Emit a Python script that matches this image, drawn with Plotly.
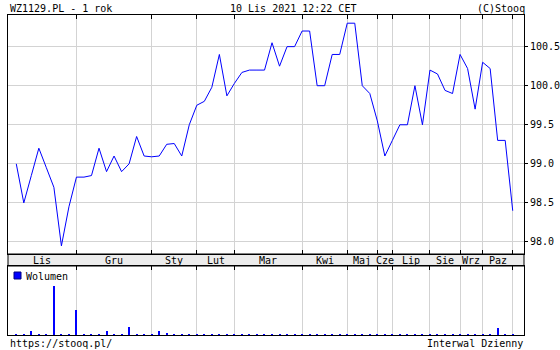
import plotly.graph_objects as go

# ---- data ----
prices = [99.0, 98.5, 98.85, 99.2, 98.95, 98.7, 97.95, 98.45, 98.83, 98.83,
          98.85, 99.2, 98.9, 99.1, 98.9, 99.0, 99.35, 99.1, 99.09, 99.1,
          99.25, 99.26, 99.1, 99.5, 99.75, 99.8, 99.98, 100.4, 99.87, 100.03,
          100.17, 100.2, 100.2, 100.2, 100.55, 100.25, 100.5, 100.5, 100.7, 100.7,
          100.0, 100.0, 100.4, 100.4, 100.8, 100.8, 100.0, 99.9, 99.55, 99.1,
          99.3, 99.5, 99.5, 100.0, 99.5, 100.2, 100.15, 99.94, 99.9, 100.4,
          100.22, 99.7, 100.3, 100.22, 99.3, 99.3, 98.4]
volume = [2, 2, 8, 2, 2, 100, 2, 2, 50, 2,
          2, 2, 8, 2, 2, 17, 2, 2, 2, 8,
          5, 2, 2, 2, 2, 2, 2, 2, 2, 2,
          2, 2, 2, 2, 2, 2, 2, 2, 2, 2,
          2, 2, 2, 2, 2, 2, 2, 2, 2, 2,
          2, 2, 2, 2, 2, 2, 2, 2, 2, 2,
          2, 2, 2, 2, 14, 2, 2]
session = list(range(len(prices)))
month_starts = [8, 18, 24, 29, 38, 44, 48, 50, 55, 59, 62, 66]
month_labels = ["Lis", "Gru", "Sty", "Lut", "Mar", "Kwi", "Maj", "Cze", "Lip", "Sie", "Wrz", "Paz"]
price_ticks = [98.0, 98.5, 99.0, 99.5, 100.0, 100.5]

# ---- geometry ----
W, H = 560, 350
FONT = "DejaVu Sans Mono"
XR = [-1.1, 67.5]
def px_x(p): return p / W
def px_y(p): return 1 - p / H
main_dom = [px_y(254), px_y(15)]
vol_dom = [px_y(335), px_y(266)]
xdom = [px_x(8), px_x(524)]
grid = "#d3d3d3"
tfont = dict(family=FONT, size=10, color="black")

fig = go.Figure()
fig.add_trace(go.Scatter(x=session, y=prices, mode="lines",
                         line=dict(color="#0000ff", width=1),
                         xaxis="x", yaxis="y", hoverinfo="skip"))
fig.add_trace(go.Bar(x=session, y=volume, width=0.14,
                     marker=dict(color="#0000ff", line=dict(width=0)),
                     xaxis="x2", yaxis="y2", hoverinfo="skip"))

common_x = dict(domain=xdom, range=XR, tickmode="array", tickvals=month_starts,
                showticklabels=False, ticks="inside", ticklen=4, tickcolor="black",
                showgrid=True, gridcolor=grid, gridwidth=1, showline=True,
                linecolor="black", linewidth=1, zeroline=False, fixedrange=True)

annotations = []
edges = [XR[0]] + month_starts
for k, lab in enumerate(month_labels):
    annotations.append(dict(x=(edges[k] + edges[k + 1]) / 2, y=px_y(260), xref="x", yref="paper",
                            text=lab, showarrow=False, font=tfont, xanchor="center", yanchor="middle"))
annotations += [
    dict(x=px_x(8), y=px_y(8), xref="paper", yref="paper", text="WZ1129.PL - 1 rok",
         showarrow=False, font=tfont, xanchor="left", yanchor="middle"),
    dict(x=px_x(228), y=px_y(8), xref="paper", yref="paper", text="10 Lis 2021 12:22 CET",
         showarrow=False, font=tfont, xanchor="left", yanchor="middle"),
    dict(x=px_x(527), y=px_y(8), xref="paper", yref="paper", text="(C)Stooq",
         showarrow=False, font=tfont, xanchor="right", yanchor="middle"),
    dict(x=px_x(8), y=px_y(343), xref="paper", yref="paper", text="https://stooq.pl/",
         showarrow=False, font=tfont, xanchor="left", yanchor="middle"),
    dict(x=px_x(525), y=px_y(343), xref="paper", yref="paper", text="Interwal Dzienny",
         showarrow=False, font=tfont, xanchor="right", yanchor="middle"),
    dict(x=px_x(24), y=px_y(276), xref="paper", yref="paper", text="Wolumen",
         showarrow=False, font=tfont, xanchor="left", yanchor="middle"),
]

shapes = [
    dict(type="rect", xref="paper", yref="paper", x0=xdom[0], x1=xdom[1],
         y0=px_y(266), y1=px_y(254), fillcolor="#ececec", line=dict(color="black", width=1),
         layer="below"),
    dict(type="rect", xref="paper", yref="paper", x0=px_x(14), x1=px_x(21),
         y0=px_y(279), y1=px_y(272), fillcolor="#0000ff", line=dict(color="#000080", width=1)),
]

fig.update_layout(
    width=W, height=H, margin=dict(l=0, r=0, t=0, b=0),
    paper_bgcolor="white", plot_bgcolor="white", showlegend=False,
    font=tfont, bargap=0,
    xaxis=dict(anchor="y", mirror="ticks", **common_x),
    xaxis2=dict(anchor="y2", side="top", mirror=True, matches="x", **common_x),
    yaxis=dict(domain=main_dom, range=[97.846, 100.905], side="right", anchor="x",
               tickmode="array", tickvals=price_ticks, tickformat=".1f",
               ticks="outside", ticklen=3, tickcolor="black", tickfont=tfont,
               showgrid=True, gridcolor=grid, gridwidth=1, showline=True,
               linecolor="black", linewidth=1, mirror=True, zeroline=False, fixedrange=True),
    yaxis3=dict(overlaying="y", side="left", anchor="x", range=[97.846, 100.905],
                tickmode="array", tickvals=price_ticks, ticks="inside", ticklen=4,
                tickcolor="black", showticklabels=False, showgrid=False,
                showline=False, zeroline=False, fixedrange=True),
    yaxis2=dict(domain=vol_dom, range=[0, 140], anchor="x2", showgrid=False,
                showticklabels=False, ticks="", showline=True, linecolor="black",
                linewidth=1, mirror=True, zeroline=False, fixedrange=True),
    annotations=annotations, shapes=shapes,
)

fig.write_html("out.html", config={"displayModeBar": False})
